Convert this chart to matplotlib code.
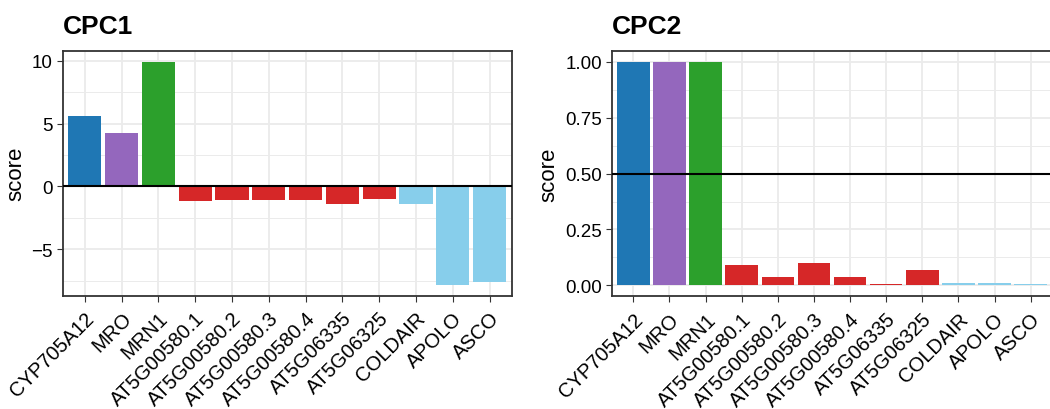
import numpy as np
import matplotlib
matplotlib.use("Agg")
from matplotlib import pyplot as plt
from matplotlib.ticker import MultipleLocator

plt.rcParams['font.family'] = ['Liberation Sans', 'DejaVu Sans']

genes = ["CYP705A12", "MRO", "MRN1", "AT5G00580.1", "AT5G00580.2", "AT5G00580.3",
         "AT5G00580.4", "AT5G06335", "AT5G06325", "COLDAIR", "APOLO", "ASCO"]
cpc1 = [5.58, 4.24, 9.92, -1.18, -1.10, -1.10, -1.10, -1.42, -0.97, -1.42, -7.81, -7.58]
cpc2 = [1.0, 1.0, 1.0, 0.092, 0.039, 0.101, 0.039, 0.004, 0.070, 0.012, 0.012, 0.008]
colors = ["#1f77b4", "#9467bd", "#2ca02c"] + ["#d62728"] * 6 + ["#87ceeb"] * 3


def draw_panel(ax, values, title, hline, major, minor, fmt):
    x = np.arange(1, len(genes) + 1)
    ax.bar(x, values, width=0.9, color=colors, zorder=2)
    ax.axhline(hline, color="black", linewidth=1.5, zorder=3)
    lo, hi = min(min(values), 0), max(values)
    span = hi - lo
    ax.set_ylim(lo - 0.05 * span, hi + 0.05 * span)
    ax.set_xlim(0.4, len(genes) + 0.6)
    ax.set_xticks(x)
    ax.set_xticklabels(genes, rotation=45, ha="right", va="top", rotation_mode="anchor", fontsize=14.5)
    ax.yaxis.set_major_locator(MultipleLocator(major))
    ax.yaxis.set_minor_locator(MultipleLocator(minor))
    ax.yaxis.set_major_formatter(fmt)
    ax.tick_params(axis="y", labelsize=13.5, length=4, color="#333333", pad=3)
    ax.tick_params(axis="x", length=4, color="#333333", pad=5)
    ax.tick_params(which="minor", length=0)
    ax.grid(True, which="major", color="#ebebeb", linewidth=1.3, zorder=0)
    ax.grid(True, which="minor", axis="y", color="#ebebeb", linewidth=0.7, zorder=0)
    ax.set_axisbelow(True)
    for s in ax.spines.values():
        s.set_color("#333333")
        s.set_linewidth(1.3)
    ax.set_ylabel("score", fontsize=16, labelpad=4)
    ax.set_title(title, loc="left", fontsize=19, fontweight="bold", pad=13)


fig = plt.figure(figsize=(10.5, 4.1), dpi=100)
ax1 = fig.add_axes([0.0597, 0.2763, 0.4276, 0.5976])
ax2 = fig.add_axes([0.5825, 0.2744, 0.4198, 0.5995])

draw_panel(ax1, cpc1, "CPC1", 0, 5, 2.5, "{x:g}")
draw_panel(ax2, cpc2, "CPC2", 0.5, 0.25, 0.125, "{x:.2f}")
ax1.yaxis.set_major_formatter(lambda v, p: f"{v:g}".replace("-", "\u2212"))

fig.savefig("out.png", dpi=100)
